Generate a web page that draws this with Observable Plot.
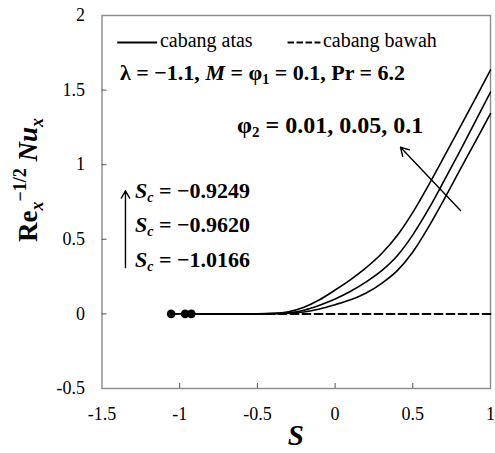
<!DOCTYPE html>
<html><head><meta charset="utf-8">
<script src="https://cdn.jsdelivr.net/npm/d3@7"></script>
<script src="https://cdn.jsdelivr.net/npm/@observablehq/plot@0.6"></script>
<style>body{margin:0;background:#fff} svg{display:block}</style>
</head><body><div id="chart"></div>
<script>
// ---- data ----
const sGrid = [-0.5,-0.4,-0.3,-0.2,-0.1,0,0.1,0.2,0.3,0.4,0.5,0.6,0.7,0.8,0.9,1.0];
const upperPhi010 = [0.001,0.004,0.015,0.045,0.095,0.16,0.23,0.31,0.405,0.525,0.68,0.86,1.05,1.243,1.438,1.635];
const upperPhi005 = [0,0.002,0.008,0.025,0.058,0.10,0.152,0.215,0.29,0.39,0.53,0.70,0.89,1.085,1.285,1.486];
const upperPhi001 = [0,0.001,0.004,0.013,0.033,0.062,0.095,0.14,0.205,0.29,0.415,0.58,0.765,0.958,1.15,1.343];
const seriesNames = ["φ2 = 0.1","φ2 = 0.05","φ2 = 0.01"];
const criticalS = [-1.055,-0.965,-0.925];
const lowerEndS = 1.0;
const scLabels = ["−0.9249","−0.9620","−1.0166"];
const xTicks = [-1.5,-1,-0.5,0,0.5,1];
const yTicks = [-0.5,0,0.5,1,1.5,2];
const xTickLabels = ["-1.5","-1","-0.5","0","0.5","1"];
const yTickLabels = ["-0.5","0","0.5","1","1.5","2"];

const upperValues = [upperPhi010, upperPhi005, upperPhi001];
const upper = [];
const lower = [];
seriesNames.forEach((name,i)=>{
  upper.push({series:name, S:criticalS[i], v:0});
  sGrid.forEach((s,j)=>{ if (s > criticalS[i]) upper.push({series:name, S:s, v:upperValues[i][j]}); });
  // drawn from S = 1 back to Sc so the dash patterns of the three branches line up
  lower.push({series:name, S:lowerEndS, v:0});
  lower.push({series:name, S:criticalS[i], v:0});
});

// annotation anchor points (data units)
const legendSolid = [{x1:-1.402, x2:-1.145, y:1.819}];
const legendDashed = [{x1:-0.306, x2:-0.094, y:1.819}];
const phiArrow = [{x1:0.807, y1:0.693, x2:0.421, y2:1.117}];
const scArrow = [{x1:-1.349, y1:0.31, x2:-1.349, y2:0.825}];

const font = "'Liberation Serif','Times New Roman',serif";

const plot = Plot.plot({
  width:495, height:453,
  marginLeft:101.5, marginRight:5, marginTop:15, marginBottom:65,
  x:{domain:[-1.5,1]},
  y:{domain:[-0.5,2]},
  style:{fontFamily:font, fontSize:"18px", background:"#fff", color:"#000"},
  marks:[
    Plot.frame({stroke:"#8a8a8a", strokeWidth:1.4}),
    Plot.ruleX(xTicks.slice(1,-1), {x:d=>d, y1:-0.5, y2:-0.5, insetTop:-5, stroke:"#555", strokeWidth:1}),
    Plot.ruleY(yTicks.slice(1,-1), {y:d=>d, x1:-1.5, x2:-1.5, insetRight:-5, stroke:"#555", strokeWidth:1}),
    Plot.axisX({ticks:xTicks, tickSize:0, tickPadding:19, tickFormat:(d)=>xTickLabels[xTicks.indexOf(d)], label:null, fontSize:18}),
    Plot.axisY({ticks:yTicks, tickSize:0, tickPadding:17, tickFormat:(d)=>yTickLabels[yTicks.indexOf(d)], label:null, fontSize:18}),
    Plot.line(lower, {x:"S", y:"v", z:"series", stroke:"black", strokeWidth:1.5, strokeDasharray:"8,4"}),
    Plot.line(upper, {x:"S", y:"v", z:"series", stroke:"black", strokeWidth:1.6, curve:"monotone-x"}),
    Plot.dot(criticalS, {x:d=>d, y:0, r:4.3, fill:"black", stroke:"none"}),
    Plot.link(legendSolid, {x1:"x1", x2:"x2", y1:"y", y2:"y", stroke:"black", strokeWidth:2}),
    Plot.link(legendDashed, {x1:"x1", x2:"x2", y1:"y", y2:"y", stroke:"black", strokeWidth:2, strokeDasharray:"6.5,2.5"}),
    Plot.arrow(phiArrow, {x1:"x1", y1:"y1", x2:"x2", y2:"y2", stroke:"black", strokeWidth:1.4, headLength:10}),
    Plot.arrow(scArrow, {x1:"x1", y1:"y1", x2:"x2", y2:"y2", stroke:"black", strokeWidth:1.4, headLength:9})
  ]
});
document.getElementById("chart").appendChild(plot);

// rich text annotations positioned through the plot's scales
const xs = plot.scale("x"), ys = plot.scale("y");
const svg = d3.select(plot);
function rich(xv, yv, parts, opts={}) {
  const t = svg.append("text")
    .attr("x", opts.px ?? xs.apply(xv)).attr("y", opts.py ?? ys.apply(yv))
    .attr("font-family", font).attr("font-size", opts.size || 20)
    .attr("fill", "black")
    .attr("text-anchor", opts.anchor || "start");
  if (opts.transform) t.attr("transform", opts.transform);
  parts.forEach(p=>{
    const s = t.append("tspan").text(p.t);
    if (p.b) s.attr("font-weight","bold");
    if (p.i) s.attr("font-style","italic");
    if (p.size) s.attr("font-size", p.size);
    if (p.dy) s.attr("dy", p.dy);
  });
  return t;
}
// legend labels
rich(-1.124, 1.786, [{t:"cabang atas"}]);
rich(-0.075, 1.786, [{t:"cabang bawah"}]);
// parameter line
rich(-1.381, 1.564, [
  {t:"λ = −1.1, ", b:1},
  {t:"M", b:1, i:1},
  {t:" = φ", b:1},
  {t:"1", b:1, size:14, dy:4},
  {t:" = 0.1, Pr = 6.2", b:1, dy:-4}
], {size:22});
rich(-0.628, 1.209, [
  {t:"φ", b:1},
  {t:"2", b:1, size:15, dy:4},
  {t:" = 0.01, 0.05, 0.1", b:1, dy:-4}
], {size:24});
// Sc labels
const scY = [0.773, 0.546, 0.311];
scLabels.forEach((lab,i)=>{
  rich(-1.284, scY[i], [
    {t:"S", b:1, i:1},
    {t:"c", b:1, i:1, size:14, dy:4},
    {t:" = " + lab, b:1, dy:-4}
  ], {size:22});
});
// axis titles
rich(null, null, [{t:"S", b:1, i:1}], {px:(101.5+490)/2, py:445, size:29, anchor:"middle"});
rich(null, null, [
  {t:"Re", b:1},
  {t:"x", b:1, i:1, size:18, dy:6},
  {t:"−1/2", b:1, size:18, dy:-17},
  {t:" Nu", b:1, i:1, dy:11},
  {t:"x", b:1, i:1, size:18, dy:6}
], {px:0, py:0, size:27, anchor:"middle", transform:"translate(37,180) rotate(-90)"});
</script>
</body></html>
